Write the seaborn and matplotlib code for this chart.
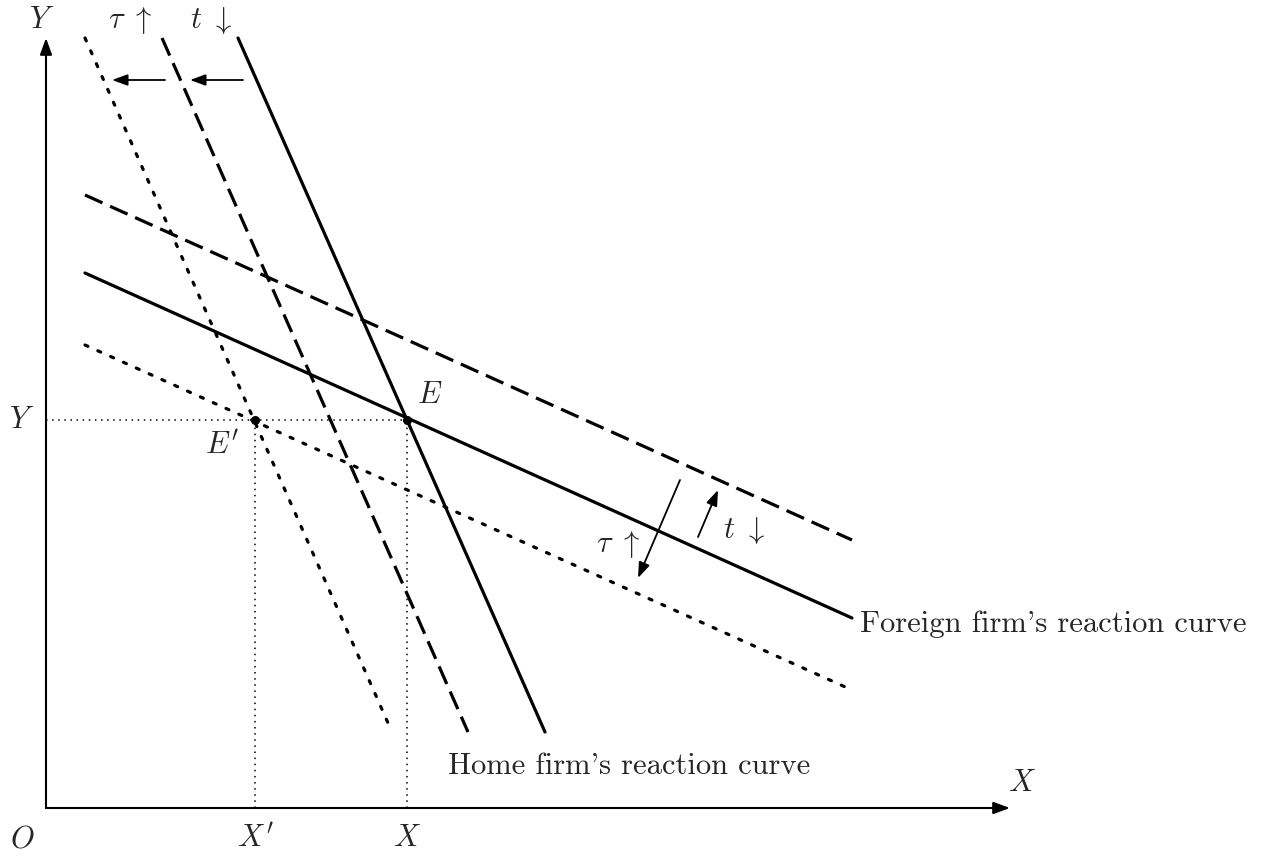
import matplotlib
matplotlib.use("Agg")
import matplotlib.pyplot as plt
import pandas as pd
import seaborn as sns

# reaction curves, endpoints in diagram units (origin at O)
home_y = [770, 76]
home_solid_x = [192, 499]
home_dashed_x = [116, 422]
home_dotted_x = [39, 346]

foreign_x = [39, 806]
foreign_solid_y = [535, 190]
foreign_dashed_y = [613, 268]
foreign_dotted_y = [463, 118]

eq_E = (361, 388)
eq_E2 = (209, 388)

# shift arrows: (start, end)
shift_top = [((197, 728), (144, 728)), ((119, 728), (66, 728))]
shift_right = [((634, 328), (592, 230)), ((652, 271), (672, 318))]

sns.set_style("white")
plt.rcParams['mathtext.fontset'] = 'cm'
plt.rcParams['font.family'] = ['cmr10', 'DejaVu Serif']
plt.rcParams['axes.unicode_minus'] = False

fig = plt.figure(figsize=(12.75, 8.57), dpi=100)
ax = fig.add_axes([0, 0, 1, 1])
ax.set_xlim(-46, 1229)
ax.set_ylim(-49, 808)
ax.axis('off')

lw = 2.3
dash = (6, 2.6)
dot = (1.0, 3.4)

curves = [
    (home_solid_x, home_y, None),
    (home_dashed_x, home_y, dash),
    (home_dotted_x, home_y, dot),
    (foreign_x, foreign_solid_y, None),
    (foreign_x, foreign_dashed_y, dash),
    (foreign_x, foreign_dotted_y, dot),
]
for xs, ys, d in curves:
    df = pd.DataFrame({'x': xs, 'y': ys})
    line = sns.lineplot(data=df, x='x', y='y', color='black', lw=lw,
                        sort=False, ax=ax).lines[-1]
    if d is not None:
        line.set_dashes(d)
        if d is dot:
            line.set_dash_capstyle('round')

# guide lines to axes
thin = dict(color='black', lw=1.1, linestyle=(0, (1, 3)))
ax.plot([0, eq_E[0]], [eq_E[1], eq_E[1]], **thin)
for px in (eq_E[0], eq_E2[0]):
    ax.plot([px, px], [0, eq_E[1]], **thin)

ax.scatter([eq_E[0], eq_E2[0]], [eq_E[1], eq_E2[1]], s=30, color='black', zorder=5)

# axes with arrows
head = '-|>,head_length=0.55,head_width=0.2'
for tip in [(0, 770), (964, 0)]:
    ax.annotate('', xy=tip, xytext=(0, 0),
                arrowprops=dict(arrowstyle=head, color='black', lw=1.5,
                                mutation_scale=18, shrinkA=0, shrinkB=0))

for s, e in shift_top + shift_right:
    ax.annotate('', xy=e, xytext=s,
                arrowprops=dict(arrowstyle=head, color='black', lw=1.3,
                                mutation_scale=17, shrinkA=0, shrinkB=0))

fs = 22
ax.text(-4, 788, '$Y$', fontsize=fs, ha='center', va='center')
ax.text(976, 25, '$X$', fontsize=fs, ha='center', va='center')
ax.text(-24, -32, '$O$', fontsize=fs, ha='center', va='center')
ax.text(-24, 388, '$Y$', fontsize=fs, ha='center', va='center')
ax.text(209, -30, "$X'$", fontsize=fs, ha='center', va='center')
ax.text(361, -30, '$X$', fontsize=fs, ha='center', va='center')
ax.text(384, 413, '$E$', fontsize=fs, ha='center', va='center')
ax.text(176, 363, "$E'$", fontsize=fs, ha='center', va='center')
ax.text(84, 788, r'$\tau\ \uparrow$', fontsize=fs, ha='center', va='center')
ax.text(165, 788, r'$t\ \downarrow$', fontsize=fs, ha='center', va='center')
ax.text(572, 263, r'$\tau\ \uparrow$', fontsize=fs, ha='center', va='center')
ax.text(698, 278, r'$t\ \downarrow$', fontsize=fs, ha='center', va='center')
ax.text(402, 42, "Home firm's reaction curve", fontsize=fs, ha='left', va='center')
ax.text(814, 184, "Foreign firm's reaction curve", fontsize=fs, ha='left', va='center')

fig.savefig('out.png', dpi=100)
